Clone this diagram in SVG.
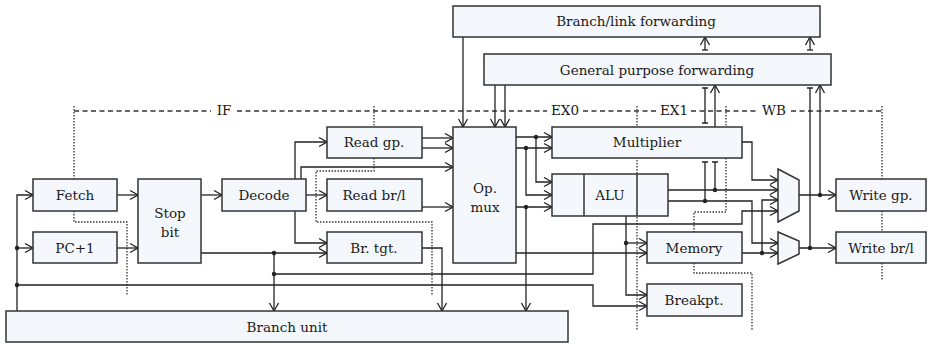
<svg xmlns="http://www.w3.org/2000/svg" width="928" height="344" viewBox="0 0 928 344">
<style>
.b{fill:#f4f7fb;stroke:#333;stroke-width:1.5}
.t{font-family:"DejaVu Serif","Liberation Serif",serif;font-size:13.5px;fill:#1a1a1a;text-anchor:middle;dominant-baseline:central}
.c{fill:none;stroke:#222;stroke-width:1.3}
.a{marker-end:url(#ar)}
.d{fill:none;stroke:#333;stroke-width:1.3;stroke-dasharray:1.5 1.5}
.s{fill:none;stroke:#333;stroke-width:1.3;stroke-dasharray:5 3.5}
.dot{fill:#222}
</style>
<defs>
<marker id="ar" viewBox="-10 -6 11 12" refX="0" refY="0" markerWidth="11" markerHeight="12" orient="auto" markerUnits="userSpaceOnUse">
<path d="M-8,-4.5 L0,0 L-8,4.5" fill="none" stroke="#222" stroke-width="1.3"/>
</marker>
</defs>
<g id="stages">
<path class="s" d="M74,111H211M237,111H547M583,111H657M691,111H759M791,111H882"/>
<text class="t" x="224" y="110">IF</text>
<text class="t" x="565" y="110">EX0</text>
<text class="t" x="674" y="110">EX1</text>
<text class="t" x="774" y="110">WB</text>
<path class="d" d="M74,106V179M74,211V222H127V295"/>
<path class="d" d="M374,106V127M374,158V171H316V222H432V295"/>
<path class="d" d="M637,106V330"/>
<path class="d" d="M726,106V127M726,158V212H694V232M694,263V273H752V330"/>
<path class="d" d="M882,106V179M882,211V232M882,263V280"/>
</g>
<g id="connectors">
<path class="c a" d="M17,311V195H33"/>
<path class="c a" d="M17,248H33"/>
<path class="c a" d="M17,285H593V306H647"/>
<path class="c a" d="M117,195H138"/>
<path class="c a" d="M117,248H138"/>
<path class="c a" d="M201,195H222"/>
<path class="c a" d="M201,253H327"/>
<path class="c a" d="M274,253V311"/>
<path class="c a" d="M274,274H593V224H742V211H778"/>
<path class="c a" d="M295,179V142H327"/>
<path class="c a" d="M301,179V167H453"/>
<path class="c a" d="M306,195H327"/>
<path class="c a" d="M295,211V243H327"/>
<path class="c a" d="M422,138H453"/>
<path class="c a" d="M422,148H453"/>
<path class="c a" d="M422,207H453"/>
<path class="c a" d="M422,248H442V311"/>
<path class="c a" d="M463,37V127"/>
<path class="c a" d="M495,85V127"/>
<path class="c a" d="M505,85V127"/>
<path class="c a" d="M516,137H552"/>
<path class="c a" d="M516,148H552"/>
<path class="c a" d="M536,137V182H552"/>
<path class="c a" d="M526,148V195H552"/>
<path class="c a" d="M516,207H552"/>
<path class="c a" d="M526,207V311"/>
<path class="c a" d="M516,253H647"/>
<path class="c a" d="M626,216V295H647"/>
<path class="c a" d="M626,243H647"/>
<path class="c a" d="M668,190H778"/>
<path class="c a" d="M668,201H752V243H778"/>
<path class="c a" d="M742,142H752V180H778"/>
<path class="c a" d="M742,253H778"/>
<path class="c a" d="M762,253V200H778"/>
<path class="c" d="M715,190V162M712,162H718"/>
<path class="c a" d="M715,127V85"/>
<path class="c" d="M705,201V162M702,162H708"/>
<path class="c" d="M705,123V88M702,123H708M702,88H708"/>
<path class="c a" d="M705,50V37"/>
<path class="c" d="M702,50H708"/>
<path class="c a" d="M799,195H836"/>
<path class="c a" d="M820,195V85"/>
<path class="c a" d="M799,248H836"/>
<path class="c" d="M810,248V88M807,88H813"/>
<path class="c a" d="M810,50V37"/>
<path class="c" d="M807,50H813"/>
<circle class="dot" cx="17" cy="248" r="2.2"/>
<circle class="dot" cx="17" cy="285" r="2.2"/>
<circle class="dot" cx="274" cy="253" r="2.2"/>
<circle class="dot" cx="274" cy="274" r="2.2"/>
<circle class="dot" cx="536" cy="137" r="2.2"/>
<circle class="dot" cx="526" cy="148" r="2.2"/>
<circle class="dot" cx="526" cy="207" r="2.2"/>
<circle class="dot" cx="626" cy="243" r="2.2"/>
<circle class="dot" cx="715" cy="190" r="2.2"/>
<circle class="dot" cx="705" cy="201" r="2.2"/>
<circle class="dot" cx="762" cy="253" r="2.2"/>
<circle class="dot" cx="820" cy="195" r="2.2"/>
<circle class="dot" cx="810" cy="248" r="2.2"/>
</g>
<g id="fetch"><rect class="b" x="33" y="179" width="84" height="32"/><text class="t" x="75" y="195">Fetch</text></g>
<g id="pc1"><rect class="b" x="33" y="232" width="84" height="31"/><text class="t" x="75" y="248">PC+1</text></g>
<g id="stopbit"><rect class="b" x="138" y="179" width="63" height="84"/><text class="t" x="170" y="213">Stop</text><text class="t" x="170" y="232">bit</text></g>
<g id="decode"><rect class="b" x="222" y="179" width="84" height="32"/><text class="t" x="264" y="195">Decode</text></g>
<g id="readgp"><rect class="b" x="327" y="127" width="95" height="31"/><text class="t" x="374" y="142">Read gp.</text></g>
<g id="readbrl"><rect class="b" x="327" y="179" width="95" height="32"/><text class="t" x="374" y="195">Read br/l</text></g>
<g id="brtgt"><rect class="b" x="327" y="232" width="95" height="31"/><text class="t" x="374" y="248">Br. tgt.</text></g>
<g id="opmux"><rect class="b" x="453" y="127" width="63" height="136"/><text class="t" x="485" y="188">Op.</text><text class="t" x="485" y="207">mux</text></g>
<g id="blf"><rect class="b" x="453" y="6" width="367" height="31"/><text class="t" x="636" y="21">Branch/link forwarding</text></g>
<g id="gpf"><rect class="b" x="484" y="54" width="347" height="31"/><text class="t" x="657" y="70">General purpose forwarding</text></g>
<g id="multiplier"><rect class="b" x="552" y="127" width="190" height="31"/><text class="t" x="647" y="142">Multiplier</text></g>
<g id="alu"><rect class="b" x="552" y="174" width="116" height="42"/><path d="M584,174V216M637,174V216" stroke="#333" stroke-width="1.5"/><text class="t" x="610" y="195">ALU</text></g>
<g id="memory"><rect class="b" x="647" y="232" width="95" height="31"/><text class="t" x="694" y="248">Memory</text></g>
<g id="breakpt"><rect class="b" x="647" y="284" width="95" height="32"/><text class="t" x="694" y="300">Breakpt.</text></g>
<g id="mux1"><path class="b" d="M778,169L799,180V211L778,222Z"/></g>
<g id="mux2"><path class="b" d="M778,232L799,241V254L778,264Z"/></g>
<g id="writegp"><rect class="b" x="836" y="179" width="90" height="32"/><text class="t" x="881" y="195">Write gp.</text></g>
<g id="writebrl"><rect class="b" x="836" y="232" width="90" height="31"/><text class="t" x="881" y="248">Write br/l</text></g>
<g id="branchunit"><rect class="b" x="6" y="311" width="562" height="31"/><text class="t" x="287" y="327">Branch unit</text></g>
</svg>
